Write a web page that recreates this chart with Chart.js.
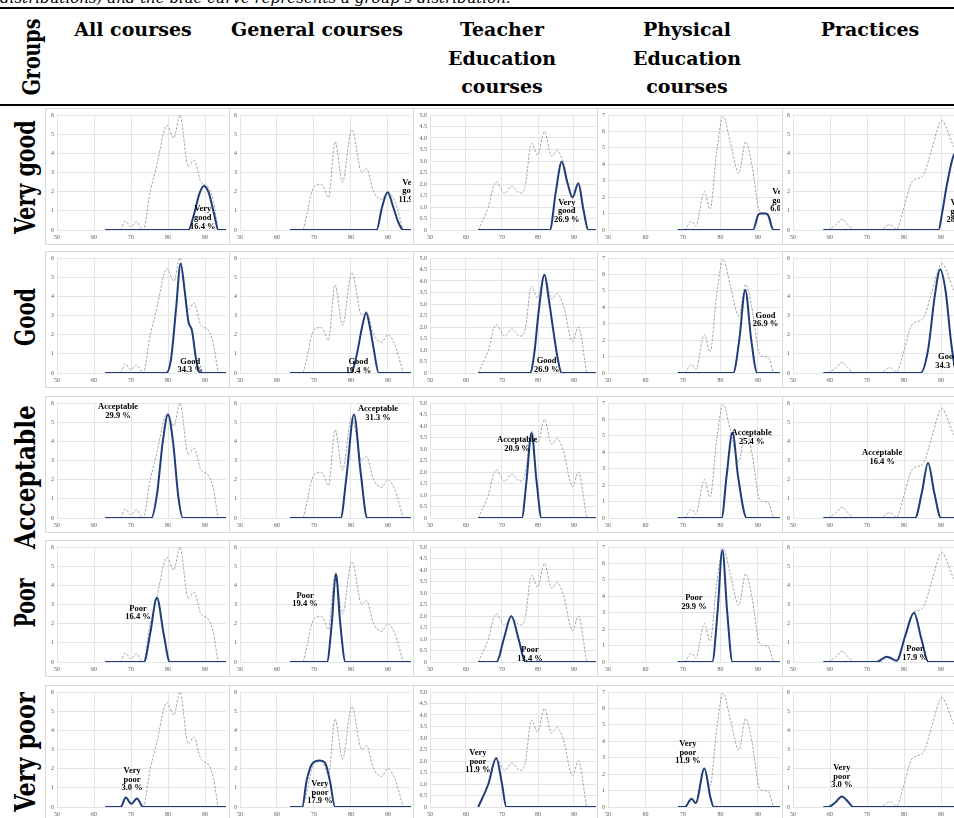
<!DOCTYPE html>
<html>
<head>
<meta charset="utf-8">
<script src="https://cdn.jsdelivr.net/npm/chart.js@4.4.1/dist/chart.umd.min.js"></script>
<style>
html, body { margin: 0; padding: 0; background: #fff; }
#page { position: relative; width: 954px; height: 818px; overflow: hidden; background: #fff; }
.caption { position: absolute; left: 0; top: -11px; font: italic 15px 'DejaVu Serif'; white-space: nowrap; }
.rule { position: absolute; left: 0; width: 954px; height: 2px; background: #000; }
.head { position: absolute; top: 15px; font: bold 19px 'DejaVu Serif'; line-height: 28.5px; text-align: center; white-space: nowrap; transform: translateX(-50%); }
.rot { position: absolute; font: bold 20px 'DejaVu Serif'; white-space: nowrap; line-height: 1; }
.box { position: absolute; border: 1px solid #d9d9d9; border-right: 0; box-sizing: border-box; }
canvas { position: absolute; }
</style>
</head>
<body>
<div id="page"></div>
<script>
// columns / groups of the table
const columns = ['All courses', 'General courses', 'Teacher<br>Education<br>courses', 'Physical<br>Education<br>courses', 'Practices'];
const groups = ['Very good', 'Good', 'Acceptable', 'Poor', 'Very poor'];

// share of each group (%) per column
const shares = [
    [16.4, 34.3, 29.9, 16.4, 3.0],
    [11.9, 19.4, 31.3, 19.4, 17.9],
    [26.9, 26.9, 20.9, 13.4, 11.9],
    [6.0, 26.9, 25.4, 29.9, 11.9],
    [28.4, 34.3, 16.4, 17.9, 3.0]
];

// axis ticks
const xTicks = [50, 60, 70, 80, 90];
const yMax = [6, 6, 5, 7, 6];
const yStep = [1, 1, 0.5, 1, 1];

// grey dashed curve = whole distribution of a column  [score, value]
const allTotal = [[67.2,0],[68.6,0.47],[69.9,0.16],[71.5,0.42],[73.3,0],[75.1,1.9],[77,3.4],[79.7,5.45],[81.6,4.8],[83.2,6.0],[85.5,3.3],[87,3.65],[88.9,2.5],[90.8,2.25],[92.3,1.5],[93.5,0]];
const generalTotal = [[67.1,0],[68.3,1.0],[69.4,2.0],[70.7,2.35],[72.1,2.37],[73.9,1.7],[75.7,4.6],[77.7,2.5],[80.2,5.25],[82.9,3.02],[84.2,3.2],[86,2.05],[88.3,1.6],[89.9,2.0],[91.9,1.45],[94.1,0]];
const teacherTotal = [[63.4,0],[66.2,1.0],[68.3,2.1],[70.8,1.6],[72.7,1.91],[75,1.6],[76.4,1.88],[78.2,3.77],[79.9,3.26],[81.8,4.28],[83.8,3.2],[85.2,3.45],[87,2.96],[89.6,1.36],[91.2,2.0],[93.5,0]];
const physicalTotal = [[70.5,0],[72.3,0.51],[73.4,0.24],[75.7,2.35],[77.2,1.26],[79,4.8],[80.7,6.92],[82.6,5.35],[84.9,3.45],[86.7,5.38],[88.3,4.06],[90.3,1.22],[91.4,1.0],[92.7,0.95],[94.1,0]];
const practicesTotal = [[59.5,0],[61.5,0.25],[63.2,0.55],[65,0.25],[66.3,0],[73.5,0],[76.2,0.28],[78,0.05],[79.8,1.04],[82.1,2.5],[85.2,2.85],[87.5,4.2],[90.2,5.7],[93.3,4.4],[95,3.8]];

// blue curves, one per group (Very good .. Very poor)
const allGroups = [
    [[63,0],[85.5,0],[87,0.8],[88.5,1.9],[89.7,2.3],[91,1.95],[92.5,0.8],[93.6,0],[98,0]],
    [[63,0],[79.5,0],[80.8,0.7],[82.2,3.4],[83.4,5.7],[84.5,4.3],[85.5,2.7],[86.5,2.2],[87.6,0.7],[88.6,0],[98,0]],
    [[63,0],[75.5,0],[77,1.2],[78.6,4.0],[80,5.4],[81.4,3.9],[82.8,1.1],[84,0],[98,0]],
    [[63,0],[73.5,0],[75.2,1.5],[77,3.35],[78.8,1.5],[80.5,0],[98,0]],
    [[63,0],[67.2,0],[68.6,0.49],[70.1,0.17],[71.6,0.45],[73.3,0],[98,0]]
];
const generalGroups = [
    [[63.5,0],[86.9,0],[88.4,1.2],[89.9,1.97],[91.4,1.2],[92.8,0.4],[94.1,0],[98,0]],
    [[63.5,0],[80,0],[81.5,0.9],[83,2.4],[84.1,3.15],[85.1,2.4],[86.1,1.3],[87.5,0],[98,0]],
    [[63.5,0],[77.2,0],[78.8,2.2],[80.8,5.4],[82.6,2.4],[84.4,0],[98,0]],
    [[63.5,0],[73.5,0],[74.8,2.0],[75.9,4.6],[77.1,2.0],[78.5,0],[98,0]],
    [[63.5,0],[66.8,0],[68,1.37],[69.5,2.25],[71.6,2.42],[73,2.3],[74.3,1.37],[75.7,0],[98,0]]
];
const teacherGroups = [
    [[63.4,0],[83.3,0],[84.9,1.6],[86.6,2.97],[88.1,2.1],[89.6,1.42],[91.2,2.03],[92.6,0.9],[94,0],[98,0]],
    [[63.4,0],[77.8,0],[79,0.9],[80.2,2.7],[81.8,4.27],[83,3.2],[84.3,1.8],[85.5,0.6],[86.6,0],[98,0]],
    [[63.4,0],[75.5,0],[76.8,1.6],[78.2,3.7],[79.6,1.6],[81,0],[98,0]],
    [[63.4,0],[68.5,0],[70.5,1.0],[72.6,2.0],[74.6,1.0],[76.5,0],[98,0]],
    [[63.4,0],[66.2,1.0],[68.4,2.13],[70,1.0],[71.2,0],[98,0]]
];
const physicalGroups = [
    [[68.6,0],[88.7,0],[90,0.9],[90.8,1.0],[92,1.0],[92.7,0.9],[94.1,0],[98,0]],
    [[68.6,0],[83.4,0],[85,2.0],[86.6,5.05],[88.2,2.0],[89.8,0],[98,0]],
    [[68.6,0],[80.3,0],[81.6,2.5],[83.2,5.2],[84.7,2.5],[87,0],[98,0]],
    [[68.6,0],[77.8,0],[79.2,3.0],[80.5,6.8],[81.8,3.0],[83.2,0],[98,0]],
    [[68.6,0],[70.5,0],[72.3,0.5],[73.4,0.24],[75.7,2.35],[77.3,0.6],[78.2,0],[98,0]]
];
const practicesGroups = [
    [[58.2,0],[89.3,0],[90.4,1.0],[91.5,2.26],[93.3,3.83],[94.5,4.1],[96,3.5]],
    [[58.2,0],[84.5,0],[86.5,1.2],[88.3,4.0],[89.8,5.4],[91.3,4.2],[92.8,1.5],[94.3,0],[98,0]],
    [[58.2,0],[83,0],[84.8,1.3],[86.5,2.87],[88.2,1.3],[90,0],[98,0]],
    [[58.2,0],[72.6,0],[75.3,0.28],[78,0.07],[80.4,1.4],[82.7,2.57],[84.7,1.2],[86.6,0],[98,0]],
    [[58.2,0],[59.5,0],[61.5,0.25],[63.2,0.55],[65,0.25],[66.3,0],[98,0]]
];

const totals = [allTotal, generalTotal, teacherTotal, physicalTotal, practicesTotal];
const blues = [allGroups, generalGroups, teacherGroups, physicalGroups, practicesGroups];

// ---- layout (pixels) ----
// [box left, pixel of score 50, px per 10 points, box right]
const colBox = [[45, 57, 37, 226], [229, 240, 37, 411], [413, 430, 36, 596], [597, 608, 37.5, 780], [782, 793, 37, 954]];
const rowPlotTop = [115, 258, 403, 547, 692];
const plotH = 115, boxPadTop = 7, boxH = 137;
const headCenter = [133, 317, 502, 687, 870];
const rowLabelY = [177, 317, 477, 603, 752];
const rowLabelStretch = [1.03, 1.0, 1.17, 0.95, 1.12];
// where the group label sits (score, value of first line) for each column / row
const labelAt = [
    [[89.4,1.09],[86,0.6],[66.5,5.79],[71.9,2.79],[70.3,1.89]],
    [[96.2,2.47],[82,0.58],[87.3,5.68],[67.6,3.47],[71.6,1.21]],
    [[88,1.19],[82.4,0.52],[74.2,3.39],[77.8,0.52],[63.3,2.35]],
    [[96.1,2.31],[92,3.5],[88.3,5.19],[72.9,3.9],[71.3,3.83]],
    [[94.9,1.41],[91.9,0.83],[74.1,3.39],[83,0.68],[63.2,2.03]]
];

const BLUE = '#1f3c7a';
const GREY = '#a3a3a3';
const GRID = '#e4e4e4';

const page = document.getElementById('page');

function add(cls, html, css) {
    let d = document.createElement('div');
    d.className = cls;
    d.innerHTML = html;
    Object.assign(d.style, css || {});
    page.appendChild(d);
    return d;
}

add('caption', 'distributions) and the blue curve represents a group\u2019s distribution.');
add('rule', '', { top: '7px' });
add('rule', '', { top: '104px' });
add('rot', 'Groups', { left: '31px', top: '57px', font: 'bold 19px "DejaVu Serif"', transform: 'translate(-50%,-50%) scaleX(1.3) rotate(-90deg)' });

columns.forEach(function (name, c) {
    add('head', name, { left: headCenter[c] + 'px' });
});
groups.forEach(function (g, r) {
    add('rot', g, { left: '25px', top: rowLabelY[r] + 'px', transform: 'translate(-50%,-50%) scale(1.4,' + rowLabelStretch[r] + ') rotate(-90deg)' });
});

function labelLines(group, share) {
    let words = group.split(' ');
    return words.concat([share.toFixed(1) + ' %']);
}

// writes the group name + share on the chart
const groupLabel = {
    id: 'groupLabel',
    afterDatasetsDraw(chart, args, opts) {
        const ctx = chart.ctx;
        const x = chart.scales.x.getPixelForValue(opts.at[0]);
        const y = chart.scales.y.getPixelForValue(opts.at[1]);
        ctx.save();
        ctx.font = 'bold 8.5px "Liberation Serif"';
        ctx.fillStyle = '#000';
        ctx.textAlign = 'center';
        ctx.textBaseline = 'middle';
        opts.lines.forEach(function (t, i) {
            ctx.fillText(t, x, y + i * 8.6);
        });
        ctx.restore();
    }
};

function toXY(pts) {
    return pts.map(function (p) { return { x: p[0], y: p[1] }; });
}

for (let c = 0; c < 5; c++) {
    const [bl, px50, per10, br] = colBox[c];
    const w = br - bl;
    const xMax = 50 + (br - px50) / per10 * 10;
    for (let r = 0; r < 5; r++) {
        const top = rowPlotTop[r] - boxPadTop;
        add('box', '', { left: bl + 'px', top: top + 'px', width: (w + 4) + 'px', height: boxH + 'px' });
        const cv = document.createElement('canvas');
        cv.width = w; cv.height = boxH;
        cv.style.left = bl + 'px'; cv.style.top = top + 'px';
        page.appendChild(cv);

        new Chart(cv, {
            type: 'line',
            data: {
                datasets: [{
                    data: toXY(blues[c][r]),
                    borderColor: BLUE,
                    borderWidth: 2,
                    pointRadius: 0,
                    cubicInterpolationMode: 'monotone'
                }, {
                    data: toXY(totals[c]),
                    borderColor: GREY,
                    borderWidth: 1,
                    borderDash: [2.5, 1.5],
                    pointRadius: 0,
                    cubicInterpolationMode: 'monotone'
                }]
            },
            options: {
                responsive: false,
                animation: false,
                devicePixelRatio: 1,
                layout: { padding: { top: boxPadTop, left: 0, right: 0, bottom: 0 } },
                plugins: {
                    legend: { display: false },
                    tooltip: { enabled: false },
                    groupLabel: { at: labelAt[c][r], lines: labelLines(groups[r], shares[c][r]) }
                },
                scales: {
                    x: {
                        type: 'linear',
                        min: 50,
                        max: xMax,
                        afterBuildTicks: function (axis) {
                            axis.ticks = xTicks.map(function (v) { return { value: v }; });
                        },
                        afterFit: function (s) { s.height = boxH - boxPadTop - plotH; },
                        grid: { color: GRID, drawTicks: false },
                        border: { display: false },
                        ticks: { color: '#595959', font: { family: 'Liberation Serif', size: 6 }, padding: 4, maxRotation: 0 }
                    },
                    y: {
                        min: 0,
                        max: yMax[c],
                        afterFit: function (s) { s.width = px50 - bl; },
                        grid: { color: GRID, drawTicks: false },
                        border: { display: false },
                        ticks: { stepSize: yStep[c], color: '#595959', font: { family: 'Liberation Serif', size: 6 }, padding: 3 }
                    }
                }
            },
            plugins: [groupLabel]
        });
    }
}
</script>
</body>
</html>
